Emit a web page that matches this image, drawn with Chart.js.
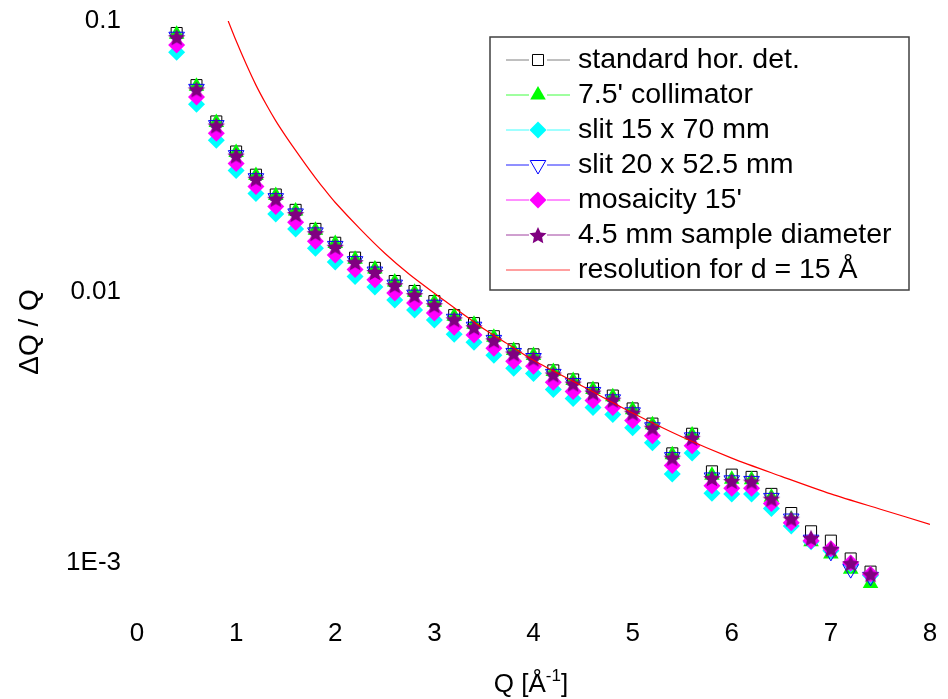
<!DOCTYPE html>
<html>
<head>
<meta charset="utf-8">
<script src="https://cdn.jsdelivr.net/npm/chart.js@4.4.0/dist/chart.umd.min.js"></script>
<style>
  html, body { margin: 0; padding: 0; background: #fff; }
  #wrap { width: 948px; height: 699px; }
</style>
</head>
<body>
<div id="wrap"><canvas id="chart"></canvas></div>
<script>
// Q in 1/A, same for every simulation
var qValues = [0.4, 0.6, 0.8, 1.0, 1.2, 1.4, 1.6, 1.8, 2.0, 2.2, 2.4, 2.6, 2.8, 3.0, 3.2, 3.4, 3.6, 3.8,
               4.0, 4.2, 4.4, 4.6, 4.8, 5.0, 5.2, 5.4, 5.6, 5.8, 6.0, 6.2, 6.4, 6.6, 6.8, 7.0, 7.2, 7.4];

// dQ/Q
var standardDet = [0.0903, 0.0580, 0.0426, 0.0330, 0.0271, 0.0229, 0.0201, 0.0171, 0.0152, 0.0134, 0.01228, 0.01098,
                   0.01009, 0.00926, 0.00822, 0.00768, 0.00687, 0.00615, 0.00589, 0.00514, 0.00476, 0.00441, 0.00415, 0.00372,
                   0.00327, 0.00254, 0.00300, 0.00218, 0.00212, 0.00208, 0.00180, 0.00153, 0.00131, 0.00121, 0.00104, 0.00093];
var collimator = [0.0894, 0.0574, 0.0422, 0.0327, 0.0269, 0.0227, 0.0199, 0.0169, 0.0151, 0.0132, 0.01216, 0.01088,
                  0.00999, 0.00917, 0.00814, 0.00761, 0.00681, 0.00609, 0.00583, 0.00509, 0.00472, 0.00437, 0.00411, 0.00368,
                  0.00324, 0.00251, 0.00297, 0.00211, 0.00204, 0.00203, 0.00175, 0.00145, 0.00120, 0.00108, 0.00095, 0.00084];
var slit15x70 = [0.0767, 0.0493, 0.0363, 0.0281, 0.0231, 0.0194, 0.0171, 0.0145, 0.0129, 0.0114, 0.01044, 0.00934,
                 0.00858, 0.00788, 0.00699, 0.00653, 0.00584, 0.00523, 0.00501, 0.00437, 0.00405, 0.00375, 0.00353, 0.00316,
                 0.00278, 0.00213, 0.00255, 0.00181, 0.00180, 0.00180, 0.00159, 0.00137, 0.00120, 0.00111, 0.00099, 0.00090];
var slit20x52 = [0.0875, 0.0562, 0.0413, 0.0320, 0.0263, 0.0222, 0.0195, 0.0166, 0.0148, 0.0130, 0.01190, 0.01065,
                 0.00978, 0.00898, 0.00797, 0.00745, 0.00666, 0.00596, 0.00571, 0.00499, 0.00462, 0.00428, 0.00402, 0.00360,
                 0.00317, 0.00246, 0.00291, 0.00207, 0.00202, 0.00201, 0.00174, 0.00146, 0.00122, 0.00110, 0.00095, 0.00089];
var mosaicity = [0.0815, 0.0524, 0.0385, 0.0298, 0.0245, 0.0207, 0.0181, 0.0154, 0.0137, 0.0121, 0.01109, 0.00992,
                 0.00912, 0.00837, 0.00742, 0.00694, 0.00621, 0.00555, 0.00532, 0.00465, 0.00430, 0.00398, 0.00375, 0.00336,
                 0.00295, 0.00229, 0.00271, 0.00193, 0.00189, 0.00189, 0.00166, 0.00141, 0.00121, 0.00113, 0.00100, 0.00091];
var sampleDiam = [0.0872, 0.0560, 0.0412, 0.0319, 0.0262, 0.0221, 0.0194, 0.0165, 0.0147, 0.0129, 0.01186, 0.01061,
                  0.00975, 0.00895, 0.00794, 0.00742, 0.00664, 0.00594, 0.00569, 0.00497, 0.00460, 0.00426, 0.00401, 0.00359,
                  0.00316, 0.00245, 0.00290, 0.00206, 0.00201, 0.00200, 0.00173, 0.00146, 0.00124, 0.00113, 0.00100, 0.00091];

// resolution curve for d = 15 A
var resQ   = [0.92, 1.0, 1.1, 1.2, 1.3, 1.4, 1.5, 1.6, 1.7, 1.8, 1.9, 2.0, 2.25, 2.5, 2.75, 3.0, 3.25, 3.5, 3.75,
              4.0, 4.5, 5.0, 5.5, 6.0, 6.5, 7.0, 7.5, 8.0];
var resVal = [0.1, 0.0845, 0.0695, 0.0580, 0.0495, 0.0428, 0.0376, 0.0333, 0.0296, 0.0264, 0.0237, 0.0214, 0.0171,
              0.0139, 0.0116, 0.0099, 0.0085, 0.0073, 0.0064, 0.0056, 0.00448, 0.00358, 0.00292, 0.00244, 0.00209,
              0.00180, 0.00158, 0.00139];

var seriesNames = ["standard hor. det.", "7.5' collimator", "slit 15 x 70 mm", "slit 20 x 52.5 mm",
                   "mosaicity 15'", "4.5 mm sample diameter", "resolution for d = 15 Å"];
var xTicks = [0, 1, 2, 3, 4, 5, 6, 7, 8];
var yTicks = [0.001, 0.01, 0.1];
var yTickLabels = ["1E-3", "0.01", "0.1"];

var FONT = "'Liberation Sans', Arial, sans-serif";

// filled five point star used as marker
function makeStar(r, color) {
  var c = document.createElement("canvas");
  var s = Math.ceil(r * 2 + 2);
  c.width = s; c.height = s;
  var g = c.getContext("2d");
  g.fillStyle = color;
  g.beginPath();
  for (var i = 0; i < 10; i++) {
    var rr = i % 2 === 0 ? r : r * 0.48;
    var a = -Math.PI / 2 + i * Math.PI / 5;
    var px = s / 2 + rr * Math.cos(a), py = s / 2 + 1 + rr * Math.sin(a);
    if (i === 0) g.moveTo(px, py); else g.lineTo(px, py);
  }
  g.closePath();
  g.fill();
  return c;
}
var starImg = makeStar(9, "#800080");

function pts(xs, ys) {
  return xs.map(function(x, i) { return { x: x, y: ys[i] }; });
}

// marker look per series (legend uses the same)
var looks = [
  { style: "rect", radius: 7.8, rot: 0, fill: "rgba(0,0,0,0)", stroke: "#000000", bw: 1, line: "#808080" },
  { style: "triangle", radius: 9, rot: 0, fill: "#00ff00", stroke: "#00ff00", bw: 0, line: "#40ff40" },
  { style: "rectRot", radius: 8.5, rot: 0, fill: "#00ffff", stroke: "#00ffff", bw: 0, line: "#40ffff" },
  { style: "triangle", radius: 9, rot: 180, fill: "rgba(0,0,0,0)", stroke: "#0000ff", bw: 1, line: "#2020ff" },
  { style: "rectRot", radius: 8.5, rot: 0, fill: "#ff00ff", stroke: "#ff00ff", bw: 0, line: "#ff20ff" },
  { style: starImg, radius: 9, rot: 0, fill: "#800080", stroke: "#800080", bw: 0, line: "#a040a0" }
];
var allSeries = [standardDet, collimator, slit15x70, slit20x52, mosaicity, sampleDiam];

var datasets = allSeries.map(function(vals, i) {
  var lk = looks[i];
  return {
    label: seriesNames[i],
    data: pts(qValues, vals),
    showLine: false,
    pointStyle: lk.style,
    pointRadius: lk.radius,
    pointHoverRadius: lk.radius,
    pointRotation: lk.rot,
    pointBackgroundColor: lk.fill,
    pointBorderColor: lk.stroke,
    pointBorderWidth: lk.bw,
    order: 6 - i + 1
  };
});
datasets.push({
  label: seriesNames[6],
  data: pts(resQ, resVal),
  showLine: true,
  borderColor: "#ff0000",
  borderWidth: 1.2,
  pointRadius: 0,
  tension: 0.3,
  order: 0
});

// legend box and axis titles
var extras = {
  id: "extras",
  afterDraw: function(chart) {
    var ctx = chart.ctx;
    ctx.save();
    // legend
    var bx = 490, by = 37, bw = 419, bh = 253;
    ctx.fillStyle = "#ffffff";
    ctx.fillRect(bx, by, bw, bh);
    ctx.strokeStyle = "#404040";
    ctx.lineWidth = 1.5;
    ctx.strokeRect(bx, by, bw, bh);
    ctx.font = "28.5px " + FONT;
    ctx.textBaseline = "middle";
    ctx.textAlign = "left";
    for (var i = 0; i < seriesNames.length; i++) {
      var y = 60 + i * 35;
      ctx.lineWidth = 1;
      if (i < 6) {
        var lk = looks[i];
        ctx.strokeStyle = lk.line;
        ctx.beginPath();
        ctx.moveTo(506, y); ctx.lineTo(529, y);
        ctx.moveTo(547, y); ctx.lineTo(570, y);
        ctx.stroke();
        ctx.fillStyle = i === 0 || i === 3 ? "#ffffff" : lk.fill;
        ctx.strokeStyle = lk.stroke;
        ctx.lineWidth = lk.bw;
        Chart.helpers.drawPoint(ctx, { pointStyle: lk.style, radius: lk.radius, rotation: lk.rot, borderWidth: lk.bw }, 538, y);
      } else {
        ctx.strokeStyle = "#ff4040";
        ctx.beginPath();
        ctx.moveTo(506, y); ctx.lineTo(570, y);
        ctx.stroke();
      }
      ctx.fillStyle = "#000000";
      ctx.fillText(seriesNames[i], 578, y);
    }
    // x title with superscript
    ctx.textBaseline = "alphabetic";
    var big = "26px " + FONT, small = "17px " + FONT;
    ctx.font = big;
    var a = "Q [Å", c = "]";
    var wa = ctx.measureText(a).width, wc = ctx.measureText(c).width;
    ctx.font = small;
    var wb = ctx.measureText("-1").width;
    var x0 = 531 - (wa + wb + wc) / 2, yb = 692;
    ctx.font = big;
    ctx.fillText(a, x0, yb);
    ctx.font = small;
    ctx.fillText("-1", x0 + wa, yb - 11);
    ctx.font = big;
    ctx.fillText(c, x0 + wa + wb, yb);
    // y title
    ctx.font = "28px " + FONT;
    ctx.translate(38, 332);
    ctx.rotate(-Math.PI / 2);
    ctx.textAlign = "center";
    ctx.fillText("ΔQ / Q", 0, 0);
    ctx.restore();
  }
};

new Chart(document.getElementById("chart"), {
  type: "scatter",
  data: { datasets: datasets },
  options: {
    responsive: true,
    maintainAspectRatio: false,
    animation: false,
    layout: { padding: { top: 21, right: 18, bottom: 0, left: 0 } },
    plugins: { legend: { display: false }, tooltip: { enabled: false } },
    scales: {
      x: {
        type: "linear", min: 0, max: 8,
        grid: { display: false, drawTicks: false },
        border: { display: false },
        afterBuildTicks: function(s) { s.ticks = xTicks.map(function(v) { return { value: v }; }); },
        afterFit: function(s) { s.height = 87; s.paddingLeft = 0; s.paddingRight = 0; },
        ticks: { color: "#000", padding: 6, font: { family: FONT, size: 26 }, maxRotation: 0 }
      },
      y: {
        type: "logarithmic", min: 0.00066, max: 0.1,
        grid: { display: false, drawTicks: false },
        border: { display: false },
        afterBuildTicks: function(s) { s.ticks = yTicks.map(function(v) { return { value: v }; }); },
        afterFit: function(s) { s.width = 137; s.paddingTop = 0; s.paddingBottom = 0; },
        ticks: {
          color: "#000", padding: 16, font: { family: FONT, size: 26 },
          callback: function(v) { var k = yTicks.indexOf(v); return k >= 0 ? yTickLabels[k] : ""; }
        }
      }
    }
  },
  plugins: [extras]
});
</script>
</body>
</html>
